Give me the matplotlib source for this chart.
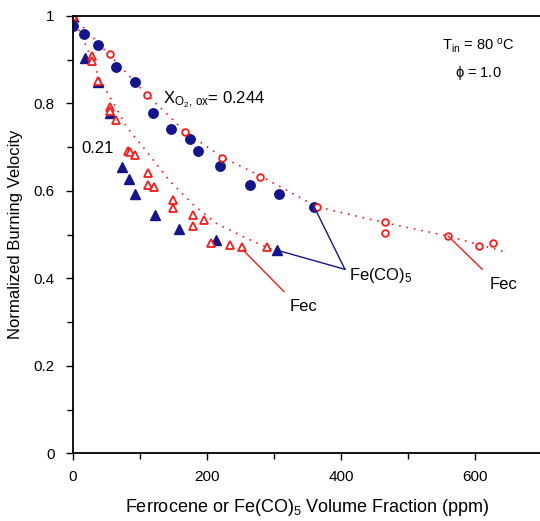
import matplotlib
matplotlib.use('Agg')
import matplotlib.pyplot as plt
from matplotlib.ticker import MultipleLocator, FuncFormatter

plt.rcParams['font.family'] = ['Liberation Sans', 'DejaVu Sans']
plt.rcParams['mathtext.fontset'] = 'custom'
plt.rcParams['mathtext.rm'] = 'Liberation Sans'
plt.rcParams['mathtext.it'] = 'Liberation Sans'

# Fe(CO)5, X_O2 = 0.244 (filled circles)
fe_244_x = [0, 17, 37, 65, 92, 119, 147, 175, 186, 219, 264, 307, 360]
fe_244_y = [0.976, 0.959, 0.933, 0.884, 0.850, 0.779, 0.742, 0.719, 0.691, 0.656, 0.613, 0.592, 0.564]
# ferrocene, X_O2 = 0.244 (open circles)
fec_244_x = [0, 55, 111, 168, 223, 279, 365, 466, 466, 560, 606, 627]
fec_244_y = [1.0, 0.912, 0.820, 0.735, 0.676, 0.633, 0.563, 0.528, 0.503, 0.497, 0.474, 0.480]
# Fe(CO)5, X_O2 = 0.21 (filled triangles)
fe_21_x = [0, 18, 37, 55, 74, 84, 93, 122, 158, 213, 305]
fe_21_y = [1.0, 0.905, 0.850, 0.778, 0.654, 0.627, 0.593, 0.544, 0.514, 0.488, 0.465]
# ferrocene, X_O2 = 0.21 (open triangles)
fec_21_x = [0, 28, 28, 37, 55, 55, 65, 82, 85, 93, 112, 112, 121, 150, 150, 179, 179, 195, 206, 234, 253, 290]
fec_21_y = [1.0, 0.909, 0.897, 0.851, 0.793, 0.783, 0.762, 0.692, 0.688, 0.682, 0.642, 0.614, 0.608,
            0.579, 0.562, 0.544, 0.520, 0.534, 0.482, 0.477, 0.471, 0.473]

# dotted fit curves
fit_244_x = [0, 55, 111, 168, 223, 279, 364, 467, 560, 649]
fit_244_y = [1.0, 0.910, 0.819, 0.735, 0.677, 0.635, 0.564, 0.527, 0.497, 0.459]
fit_21_x = [0, 20, 40, 80, 110, 145, 180, 214, 259, 299]
fit_21_y = [1.0, 0.93, 0.857, 0.747, 0.690, 0.622, 0.568, 0.526, 0.492, 0.465]

navy = '#14148c'
red = '#ff1a1a'

fig = plt.figure(figsize=(5.4, 5.21), dpi=100)
ax = fig.add_axes([0.135, 0.1296, 0.8685, 0.8397])

ax.plot(fit_244_x, fit_244_y, color=red, lw=1.2, ls=(0, (1, 3.5)))
ax.plot(fit_21_x, fit_21_y, color=red, lw=1.2, ls=(0, (1, 3.5)))

ax.plot(fe_244_x, fe_244_y, 'o', color=navy, ms=6.8, mec=navy)
ax.plot(fe_21_x, fe_21_y, '^', color=navy, ms=7, mec=navy)
ax.plot(fec_244_x, fec_244_y, 'o', mfc='white', mec=red, ms=4.8, mew=1.3)
ax.plot(fec_21_x, fec_21_y, '^', mfc='white', mec=red, ms=5.5, mew=1.3)

# leader lines
ax.plot([360, 406], [0.564, 0.421], color=navy, lw=1)
ax.plot([304, 406], [0.465, 0.421], color=navy, lw=1)
ax.plot([560, 611], [0.497, 0.421], color=red, lw=1)
ax.plot([254, 315], [0.465, 0.370], color=red, lw=1)

ax.text(412, 0.406, r'Fe(CO)$_5$', fontsize=12, va='center', ha='left')
ax.text(622, 0.387, 'Fec', fontsize=12, va='center', ha='left')
ax.text(324, 0.337, 'Fec', fontsize=12, va='center', ha='left')
ax.text(134, 0.808, r'X$_{\mathregular{O_2,\,ox}}$= 0.244', fontsize=12, va='center', ha='left')
ax.text(13, 0.698, '0.21', fontsize=12, va='center', ha='left')
ax.text(605, 0.933, r'T$_{\mathregular{in}}$ = 80 $^{\mathregular{o}}$C', fontsize=10.5, va='center', ha='center')
ax.text(605, 0.869, r'$\mathregular{\phi}$ = 1.0', fontsize=10.5, va='center', ha='center')

ax.set_xlim(0, 700)
ax.set_ylim(0, 1)
ax.xaxis.set_major_locator(MultipleLocator(200))
ax.xaxis.set_minor_locator(MultipleLocator(100))
ax.yaxis.set_major_locator(MultipleLocator(0.2))
ax.yaxis.set_minor_locator(MultipleLocator(0.1))
ax.yaxis.set_major_formatter(FuncFormatter(lambda v, p: '%g' % round(v, 1)))
ax.tick_params(which='both', direction='out', labelsize=11, width=1)
ax.tick_params(which='major', length=5, pad=8)
ax.tick_params(which='minor', length=4)
ax.tick_params(axis='x', pad=7)
for s in ['left', 'bottom', 'top']:
    ax.spines[s].set_linewidth(1.3)
ax.spines['right'].set_visible(False)

ax.set_xlabel('Ferrocene or Fe(CO)$_5$ Volume Fraction (ppm)', fontsize=13, labelpad=9)
ax.set_ylabel('Normalized Burning Velocity', fontsize=12, labelpad=8)

fig.savefig('out.png', dpi=100)
